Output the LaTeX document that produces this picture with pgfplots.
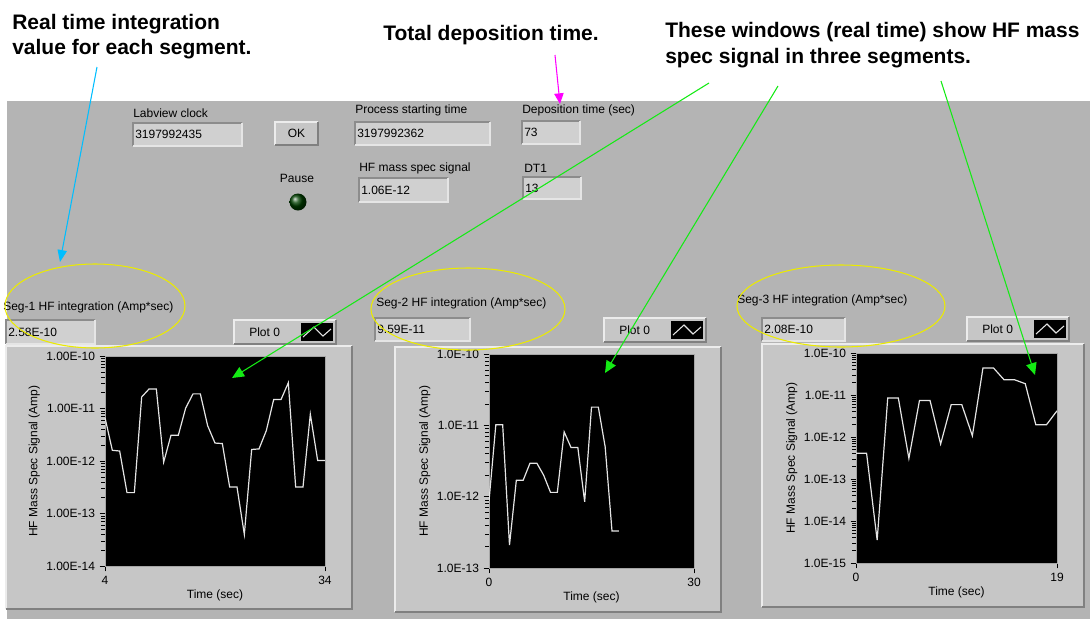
\documentclass[border=0pt]{standalone}
\usepackage{fontspec}
\setmainfont{Liberation Sans}
\usepackage{pgfplots}
\pgfplotsset{compat=1.18}
\usetikzlibrary{arrows.meta}

\definecolor{panel}{RGB}{180,180,180}
\definecolor{framec}{RGB}{198,198,198}
\definecolor{boxfill}{RGB}{208,208,208}
\definecolor{trace}{RGB}{228,228,228}
\definecolor{anngreen}{RGB}{20,235,20}
\definecolor{anncyan}{RGB}{0,190,255}
\definecolor{annmag}{RGB}{255,0,255}
\definecolor{annyel}{RGB}{235,235,0}

\newcommand\lvf{\fontsize{9}{10}\selectfont}
\newcommand\ann{\fontsize{15.75}{18}\selectfont\bfseries}

% numeric indicator: x1 y1 x2 y2 text
\newcommand\ind[5]{%
  \fill[boxfill] (#1,#2) rectangle (#3,#4);
  \draw[black!45,line width=1.2pt] (#1,#4) -- (#1,#2) -- (#3,#2);
  \draw[white!80!gray,line width=1pt] (#1,#4) -- (#3,#4) -- (#3,#2);
  \node[anchor=west,inner sep=0pt,font=\lvf] at ({#1+2},{(#2+#4)/2}) {#5};}
% raised frame
\newcommand\frm[4]{%
  \fill[framec] (#1,#2) rectangle (#3,#4);
  \draw[white!85!gray,line width=1.2pt] (#1,#4) -- (#1,#2) -- (#3,#2);
  \draw[black!50,line width=1.8pt] (#3,#2) -- (#3,#4) -- (#1,#4);}
% legend box "Plot 0"
\newcommand\leg[2]{%
  \frm{#1}{#2}{#1+102}{#2+24}
  \node[anchor=west,inner sep=0pt,font=\lvf] at ({#1+15},{#2+12}) {Plot 0};
  \fill[black] ({#1+67},{#2+3}) rectangle ({#1+99},{#2+21});
  \draw[trace,line width=0.8pt] ({#1+69},{#2+17}) -- ({#1+80},{#2+7}) -- ({#1+89},{#2+16}) -- ({#1+97},{#2+9});}

\pgfplotsset{lvaxis/.style={
  scale only axis,
  axis background/.style={fill=black},
  axis line style={draw=gray!70},
  tick align=outside, major tick length=4pt,
  tick style={black,thin},
  xtick pos=bottom, ytick pos=left,
  minor tick num=0,
  ticklabel style={font=\lvf},
  label style={font=\lvf},
  xlabel={Time (sec)}, ylabel={HF Mass Spec Signal (Amp)},
  ylabel style={yshift=-2pt},
  xlabel style={yshift=3pt},
}}

\begin{document}
\begin{tikzpicture}[x=0.75pt,y=-0.75pt]
\useasboundingbox (0,0) rectangle (1090,619);
\fill[white] (0,0) rectangle (1090,619);
\fill[panel] (7,101) rectangle (1090,619);

% top controls
\node[anchor=west,inner sep=0pt,font=\lvf] at (133,113) {Labview clock};
\ind{133}{123}{242}{146}{3197992435}
\frm{275}{122}{318}{145}
\node[font=\lvf,inner sep=0pt] at (296.5,133.5) {OK};
\node[anchor=west,inner sep=0pt,font=\lvf] at (355,110) {Process starting time};
\ind{355}{122}{490}{145}{3197992362}
\node[anchor=west,inner sep=0pt,font=\lvf] at (522,110) {Deposition time (sec)};
\ind{522}{121}{580}{144}{73}
\node[font=\lvf,inner sep=0pt] at (297,178) {Pause};
\shade[ball color=green!25!black] (298,202) circle (8.5);
\node[anchor=west,inner sep=0pt,font=\lvf] at (359,168) {HF mass spec signal};
\ind{359}{178}{448}{202}{1.06E-12}
\node[anchor=west,inner sep=0pt,font=\lvf] at (524,168) {DT1};
\ind{523}{177}{581}{199}{13}

% graph frames
\frm{6}{346}{352}{609}
\frm{395}{347}{721}{612}
\frm{762}{344}{1084}{607}

% segment controls
\node[anchor=west,inner sep=0pt,font=\lvf] at (3,307) {Seg-1 HF integration (Amp*sec)};
\ind{6}{320}{95}{344}{2.58E-10}
\leg{234}{320}
\node[anchor=west,inner sep=0pt,font=\lvf] at (376,303) {Seg-2 HF integration (Amp*sec)};
\ind{375}{318}{470}{341}{9.59E-11}
\leg{604}{318}
\node[anchor=west,inner sep=0pt,font=\lvf] at (737,300) {Seg-3 HF integration (Amp*sec)};
\ind{762}{318}{845}{341}{2.08E-10}
\leg{967}{317}

\coordinate (g1) at (105,566);
\coordinate (g2) at (489,568);
\coordinate (g3) at (856,563);

% Segment 1
\begin{axis}[lvaxis, ymode=log, at={(g1)}, anchor=south west,
  width=165pt, height=157.5pt,
  xmin=4, xmax=34, xtick={4,34}, xticklabels={4,34},
  ymin=1e-14, ymax=1e-10,
  ytick={1e-14,1e-13,1e-12,1e-11,1e-10},
  yticklabels={1.00E-14,1.00E-13,1.00E-12,1.00E-11,1.00E-10}]
\addplot[trace,line width=0.9pt] coordinates {
(4,6.7e-12)(5,1.6e-12)(6,1.55e-12)(7,2.5e-13)(8,2.5e-13)(9,1.66e-11)
(10,2.35e-11)(11,2.35e-11)(12,9.5e-13)(13,3.1e-12)(14,3.1e-12)(15,1.02e-11)
(16,1.9e-11)(17,1.9e-11)(18,4.7e-12)(19,2.2e-12)(20,2.15e-12)(21,3.2e-13)
(22,3.2e-13)(23,4.0e-14)(24,1.66e-12)(25,1.7e-12)(26,3.8e-12)(27,1.48e-11)
(28,1.48e-11)(29,3.1e-11)(30,3.2e-13)(31,3.2e-13)(32,7.8e-12)(33,1.02e-12)
(34,1.02e-12)};
\end{axis}

% Segment 2
\begin{axis}[lvaxis, ymode=log, at={(g2)}, anchor=south west,
  width=153.75pt, height=160.5pt,
  xmin=0, xmax=30, xtick={0,30}, xticklabels={0,30},
  ymin=1e-13, ymax=1e-10,
  ytick={1e-13,1e-12,1e-11,1e-10},
  yticklabels={1.0E-13,1.0E-12,1.0E-11,1.0E-10}]
\addplot[trace,line width=0.9pt] coordinates {
(0,8.7e-13)(1,1.02e-11)(2,1.02e-11)(3,2.1e-13)(4,1.7e-12)(5,1.7e-12)
(6,2.95e-12)(7,2.95e-12)(8,2.0e-12)(9,1.15e-12)(10,1.15e-12)(11,8.1e-12)
(12,4.9e-12)(13,4.9e-12)(14,8.5e-13)(15,1.8e-11)(16,1.8e-11)(17,5.0e-12)
(18,3.3e-13)(19,3.3e-13)};
\end{axis}

% Segment 3
\begin{axis}[lvaxis, ymode=log, at={(g3)}, anchor=south west,
  width=150.75pt, height=157.5pt,
  xmin=0, xmax=19, xtick={0,19}, xticklabels={0,19},
  ymin=1e-15, ymax=1e-10,
  ytick={1e-15,1e-14,1e-13,1e-12,1e-11,1e-10},
  yticklabels={1.0E-15,1.0E-14,1.0E-13,1.0E-12,1.0E-11,1.0E-10}]
\addplot[trace,line width=0.9pt] coordinates {
(0,4.1e-13)(1,4.1e-13)(2,3.5e-15)(3,8.5e-12)(4,8.5e-12)(5,3.1e-13)
(6,7.4e-12)(7,7.4e-12)(8,6.8e-13)(9,5.9e-12)(10,5.9e-12)(11,1.07e-12)
(12,4.4e-11)(13,4.4e-11)(14,2.3e-11)(15,2.3e-11)(16,1.86e-11)(17,1.95e-12)
(18,1.95e-12)(19,4.2e-12)};
\end{axis}

% annotations
\draw[annyel,line width=0.8pt] (95,306) ellipse [x radius=90, y radius=42];
\draw[annyel,line width=0.8pt] (468,309) ellipse [x radius=97, y radius=41];
\draw[annyel,line width=0.8pt] (841,306) ellipse [x radius=104, y radius=41];

\draw[anncyan,line width=0.8pt,-{Triangle[length=9pt,width=7pt]}] (97,67) -- (60,262);
\draw[annmag,line width=0.8pt,-{Triangle[length=8pt,width=7pt]}] (555,55) -- (560,104);
\draw[anngreen,line width=0.8pt,-{Triangle[length=9pt,width=8pt]}] (709,83) -- (232,378);
\draw[anngreen,line width=0.8pt,-{Triangle[length=9pt,width=8pt]}] (778,86) -- (605,373);
\draw[anngreen,line width=0.8pt,-{Triangle[length=9pt,width=8pt]}] (941,81) -- (1035,375);

\node[anchor=base west,inner sep=0pt,font=\ann] at (12,29) {Real time integration};
\node[anchor=base west,inner sep=0pt,font=\ann] at (12,54) {value for each segment.};
\node[anchor=base west,inner sep=0pt,font=\ann] at (383,40) {Total deposition time.};
\node[anchor=base west,inner sep=0pt,font=\ann] at (665,37) {These windows (real time) show HF mass};
\node[anchor=base west,inner sep=0pt,font=\ann] at (665,63) {spec signal in three segments.};
\end{tikzpicture}
\end{document}
